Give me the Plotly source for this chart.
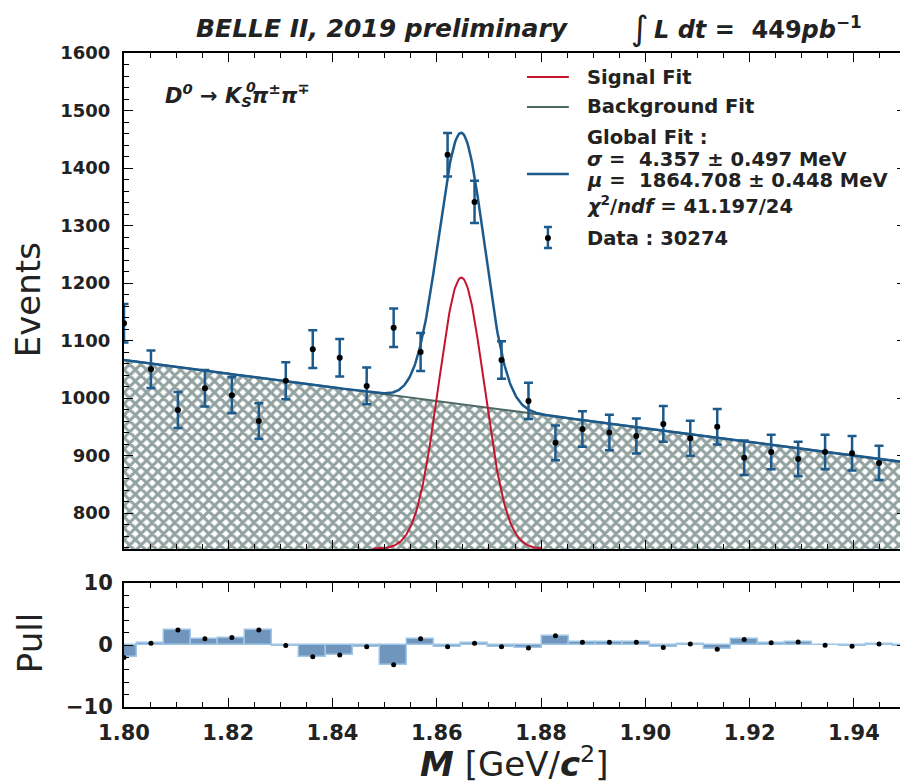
import numpy as np
import plotly.graph_objects as go

# ---------------- data ----------------
bin_centers = np.linspace(1.80, 1.95, 30)          # GeV/c^2, bin centres
counts = [1130, 1050, 979, 1017, 1005, 960, 1030, 1085, 1070, 1021,
          1122, 1080, 1423, 1341, 1066, 995, 922, 946, 940, 934,
          955, 930, 950, 896, 906, 894, 906, 904, 887]
pulls = [-2.0, 0.3, 2.4, 1.0, 1.2, 2.4, -0.1, -1.9, -1.6, -0.3,
         -3.2, 1.0, -0.3, 0.3, -0.3, -0.5, 1.5, 0.45, 0.45, 0.45,
         -0.4, 0.15, -0.7, 0.9, 0.35, 0.5, -0.05, -0.2, 0.15, -0.1]

# fit parameters (from the legend / picture)
sig_mu = 1.864708
sig_sigma = 0.004357
sig_amp = 472.0
bkg_at_left = 1066.0
bkg_at_right = 888.0
x_min, x_max = 1.80, 1.95
y_min, y_max = 737.4, 1600.0

# ---------------- model curves ----------------
xf = np.linspace(x_min, x_max, 901)
bkg = bkg_at_left + (bkg_at_right - bkg_at_left) * (xf - x_min) / (x_max - x_min)
gauss = sig_amp * np.exp(-0.5 * ((xf - sig_mu) / sig_sigma) ** 2)
glob = bkg + gauss
sel = (xf >= sig_mu - 0.0172) & (xf <= sig_mu + 0.0155)
xs = xf[sel]
sig_curve = y_min + gauss[sel]

BLUE = "#1d5a8c"
RED = "#c3162e"
BKG = "#4d6965"
HATCH = "#264542"
PULLF = "rgb(112,150,190)"
PULLE = "rgb(160,198,230)"

xc_main = bin_centers[:len(counts)]
cnt = np.array(counts, dtype=float)

fig = go.Figure()

# background hatch
fig.add_trace(go.Scatter(x=xf, y=bkg, mode="lines", line=dict(color=BKG, width=2),
                         fill="tozeroy", fillcolor="white",
                         fillpattern=dict(shape="x", fgcolor=HATCH, bgcolor="white",
                                          size=8, solidity=0.62),
                         hoverinfo="skip", xaxis="x", yaxis="y"))
# signal
fig.add_trace(go.Scatter(x=xs, y=sig_curve, mode="lines", line=dict(color=RED, width=2),
                         xaxis="x", yaxis="y"))
# global fit
fig.add_trace(go.Scatter(x=xf, y=glob, mode="lines", line=dict(color=BLUE, width=2.5),
                         xaxis="x", yaxis="y"))
# data
fig.add_trace(go.Scatter(x=xc_main, y=cnt, mode="markers",
                         marker=dict(color="black", size=6),
                         error_y=dict(type="data", array=np.sqrt(cnt), color=BLUE,
                                      thickness=2.5, width=4.5),
                         xaxis="x", yaxis="y"))

# pull panel
bw = (x_max - x_min) / 29
fig.add_trace(go.Bar(x=bin_centers, y=pulls, width=bw, base=0,
                     marker=dict(color=PULLF, line=dict(color=PULLE, width=1.5)),
                     xaxis="x2", yaxis="y2"))
fig.add_trace(go.Scatter(x=bin_centers, y=pulls, mode="markers",
                         marker=dict(color="black", size=5),
                         xaxis="x2", yaxis="y2"))

OFF = 8                      # page body margin
W, H = 908 - OFF, 783 - OFF
L, R, T, B = 124 - OFF, 0, 53 - OFF, 76
PW, PH = W - L - R, H - T - B


def px(x):
    return (x - OFF - L) / PW


def py(y):
    return (H - B - (y - OFF)) / PH


main_dom = [py(549), 1.0]
pull_dom = [0.0, py(583)]

NORM = "DejaVu Sans"

axis_common = dict(showline=True, linecolor="black", linewidth=2, mirror="ticks",
                   ticks="inside", tickcolor="black", tickwidth=1.2, ticklen=9,
                   showgrid=False, zeroline=False)

fig.update_layout(
    width=W, height=H, margin=dict(l=L, r=R, t=T, b=B),
    paper_bgcolor="white", plot_bgcolor="white", showlegend=False,
    bargap=0,
    xaxis=dict(domain=[0, 1], range=[x_min, x_max], anchor="y", matches="x2",
               showticklabels=False, tick0=1.80, dtick=0.02,
               minor=dict(ticks="inside", ticklen=5, dtick=0.005, tick0=1.80,
                          tickcolor="black", tickwidth=1),
               **axis_common),
    yaxis=dict(domain=main_dom, range=[y_min, y_max], anchor="x",
               tickvals=list(range(800, 1601, 100)),
               minor=dict(ticks="inside", ticklen=5, dtick=20, tick0=800,
                          tickcolor="black", tickwidth=1),
               tickfont=dict(family=NORM, size=18, color="#222", weight="bold"),
               ticklabelstandoff=8,
               **axis_common),
    xaxis2=dict(domain=[0, 1], range=[x_min, x_max], anchor="y2",
                tick0=1.80, dtick=0.02, tickformat=".2f",
                minor=dict(ticks="inside", ticklen=5, dtick=0.005, tick0=1.80,
                           tickcolor="black", tickwidth=1),
                tickfont=dict(family=NORM, size=21, color="#222", weight="bold"),
                ticklabelstandoff=6,
                **axis_common),
    yaxis2=dict(domain=pull_dom, range=[-10, 10], anchor="x2",
                tickvals=[-10, 0, 10],
                minor=dict(ticks="inside", ticklen=5, dtick=2, tick0=-10,
                           tickcolor="black", tickwidth=1),
                tickfont=dict(family=NORM, size=21, color="#222", weight="bold"),
                ticklabelstandoff=5,
                **axis_common),
)

ann = []


def add_text(text, x, y, size, family=NORM, xanchor="center", yanchor="middle",
             angle=0, color="#222"):
    ann.append(dict(text=text, x=px(x), y=py(y), xref="paper", yref="paper",
                    xanchor=xanchor, yanchor=yanchor, showarrow=False, textangle=angle,
                    font=dict(family=family, size=size, color=color)))


NB = "\u00a0"
# titles
add_text("<b><i>BELLE II, 2019 preliminary</i></b>", 383, 28, 25)
add_text("∫", 641, 28, 34)
add_text("<b><i>L dt</i>" + NB + "=" + NB + NB + "449<i>pb</i><sup>−1</sup></b>",
         653, 28, 24, xanchor="left")
# axis titles
add_text("Events", 28, 300, 34, angle=-90)
add_text("Pull", 30, 643, 34, angle=-90)
add_text("<b><i>M</i></b> [GeV/<b><i>c</i></b><sup>2</sup>]", 515, 762, 34)
# decay
add_text("<b><i>D<sup>0</sup> → K<sub>S</sub>π<sup>±</sup>π<sup>∓</sup></i></b>",
         163, 95, 21, xanchor="left")
add_text("<b><i>0</i></b>", 251, 87, 14)

# legend text
LX = 586
FS = 19.5
add_text("<b>Signal Fit</b>", LX, 77, FS, xanchor="left")
add_text("<b>Background Fit</b>", LX, 107, FS, xanchor="left")
add_text("<b>Global Fit :</b>", LX, 137, FS, xanchor="left")
add_text("<b><i>σ</i> =" + NB + " 4.357 ± 0.497 MeV</b>", LX, 159, FS, xanchor="left")
add_text("<b><i>μ</i> =" + NB + " 1864.708 ± 0.448 MeV</b>", LX, 180, FS, xanchor="left")
add_text("<b><i>χ</i><sup>2</sup>/<i>ndf</i> = 41.197/24</b>", LX, 205, FS, xanchor="left")
add_text("<b>Data : 30274</b>", LX, 238, FS, xanchor="left")

fig.update_layout(annotations=ann)

shapes = []


def seg(x0, y0, x1, y1, color, width):
    shapes.append(dict(type="line", xref="paper", yref="paper",
                       x0=px(x0), y0=py(y0), x1=px(x1), y1=py(y1),
                       line=dict(color=color, width=width)))


seg(528, 77, 570, 77, RED, 2)
seg(528, 107, 570, 107, BKG, 2)
seg(528, 174, 570, 174, BLUE, 2.5)
seg(549, 227, 549, 248, BLUE, 2.5)
seg(545, 227, 553, 227, BLUE, 2.5)
seg(545, 248, 553, 248, BLUE, 2.5)
shapes.append(dict(type="circle", xref="paper", yref="paper",
                   x0=px(546), x1=px(552), y0=py(235), y1=py(241),
                   fillcolor="black", line=dict(color="black", width=0)))
# faint frame line at very top
seg(122, 7, 888, 7, "#e6e6e6", 1)

fig.update_layout(shapes=shapes)

fig.write_html("out.html")
